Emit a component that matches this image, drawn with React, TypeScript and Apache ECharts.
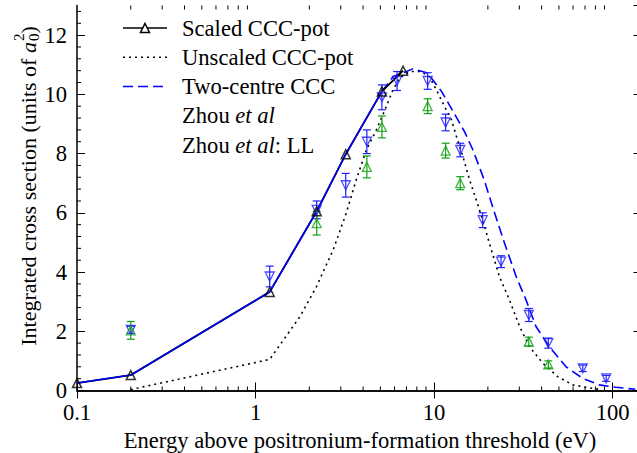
import { useEffect, useRef } from "react";
import * as echarts from "echarts";

const FONT = "'Liberation Serif', 'Times New Roman', serif";
const FS = 22.6;
const FS_Y = 22;

// Scaled CCC-pot (solid black with open triangles)
const scaledX = [0.1, 0.2, 1.2, 2.2, 3.2, 5.1, 6.7];
const scaledY = [0.25, 0.52, 3.33, 6.05, 7.98, 10.1, 10.8];

// Unscaled CCC-pot (dotted black)
const unscaledX = [0.2, 1.2, 1.43, 1.77, 2.19, 2.72, 3.22, 3.66, 4.17, 4.75, 5.4, 5.88, 6.4, 7.28, 8.47, 9.4, 10.3, 11.2, 12.5, 13.3, 14.5, 15.8, 17.2, 18.7, 20.4, 23.2, 26.4, 30.1, 34.2, 40.6, 49.2, 59.7, 70.8, 84];
const unscaledY = [0.03, 1.05, 1.7, 2.49, 3.5, 4.75, 5.99, 7.11, 8.12, 8.8, 9.59, 10.15, 10.55, 10.77, 10.77, 10.6, 10.15, 9.7, 9.14, 8.6, 7.9, 7.11, 6.44, 5.76, 4.97, 3.85, 3.06, 2.16, 1.48, 0.92, 0.47, 0.19, 0.11, 0.04];

// Two-centre CCC (blue; solid at low energy, dashed above)
const twoCentreX = [0.1, 0.2, 1.2, 2.2, 3.2, 5.1, 5.9, 7.6, 9.2, 11, 12.7, 14.8, 16.5, 19.1, 21.8, 24.8, 28.8, 32.7, 37.2, 44.2, 54.8, 68, 84, 104, 134];
const twoCentreY = [0.25, 0.52, 3.33, 6.05, 7.98, 10.1, 10.6, 10.86, 10.72, 10.1, 9.45, 8.74, 8.12, 7.1, 6.0, 4.97, 3.85, 3.06, 2.16, 1.48, 0.8, 0.41, 0.19, 0.11, 0.04];
const twoCentreSolidCount = 6;

// Zhou et al (blue open down-triangles, error bars)
const zhouX = [0.2, 1.2, 2.2, 3.2, 4.2, 5.1, 6.2, 9.2, 11.6, 14, 18.7, 23.7, 33.9, 43.6, 68, 92];
const zhouY = [2.05, 3.85, 6.1, 6.93, 8.4, 9.9, 10.45, 10.45, 9.05, 8.12, 5.75, 4.35, 2.55, 1.6, 0.75, 0.41];
const zhouErr = [0.12, 0.35, 0.3, 0.4, 0.4, 0.42, 0.32, 0.28, 0.28, 0.23, 0.25, 0.2, 0.22, 0.17, 0.11, 0.1];

// Zhou et al: LL (green open up-triangles, error bars)
const llX = [0.2, 2.2, 4.2, 5.1, 9.2, 11.6, 14, 33.9, 43.6];
const llY = [2.03, 5.65, 7.55, 8.9, 9.6, 8.1, 7.0, 1.65, 0.88];
const llErr = [0.3, 0.4, 0.37, 0.37, 0.25, 0.25, 0.22, 0.15, 0.12];

// Axes
const X_MIN = 0.1;
const X_MAX = 145;
const Y_MIN = 0;
const Y_MAX = 13;
const Y_INTERVAL = 2;
const xMinorTicks = [0.2, 0.3, 0.4, 0.5, 0.6, 0.7, 0.8, 0.9, 2, 3, 4, 5, 6, 7, 8, 9, 20, 30, 40, 50, 60, 70, 80, 90];
const yMinorTicks = [0.4, 0.8, 1.2, 1.6, 2.4, 2.8, 3.2, 3.6, 4.4, 4.8, 5.2, 5.6, 6.4, 6.8, 7.2, 7.6, 8.4, 8.8, 9.2, 9.6, 10.4, 10.8, 11.2, 11.6, 12.4, 12.8];

const legendLabels = ["Scaled CCC-pot", "Unscaled CCC-pot", "Two-centre CCC", "{n|Zhou }{i|et al}", "{n|Zhou }{i|et al}{n|: LL}"];
const xTitle = "Energy above positronium-formation threshold (eV)";
const yTitleMain = "Integrated cross section (units of ";

const BLACK = "#000000";
const BLUE = "#0000ff";
const ZBLUE = "#2020ff";
const GREEN = "#10a010";

function measure(text: string, font: string) {
  const ctx = document.createElement("canvas").getContext("2d")!;
  ctx.font = font;
  return ctx.measureText(text).width;
}

const zip = (xs: number[], ys: number[]) => xs.map((x, i) => [x, ys[i]]);

function errorBarSeries(xs: number[], ys: number[], es: number[], color: string) {
  return {
    type: "custom",
    silent: true,
    clip: false,
    z: 4,
    encode: { x: 0, y: 1 },
    data: xs.map((x, i) => [x, ys[i], es[i]]),
    renderItem: (_p: any, api: any) => {
      const x = api.value(0);
      const y = api.value(1);
      const e = api.value(2);
      const lo = api.coord([x, y - e]);
      const hi = api.coord([x, y + e]);
      const st = { stroke: color, lineWidth: 1.2 };
      return {
        type: "group",
        children: [
          { type: "line", shape: { x1: lo[0], y1: lo[1], x2: hi[0], y2: hi[1] }, style: st },
          { type: "line", shape: { x1: lo[0] - 4, y1: lo[1], x2: lo[0] + 4, y2: lo[1] }, style: st },
          { type: "line", shape: { x1: hi[0] - 4, y1: hi[1], x2: hi[0] + 4, y2: hi[1] }, style: st },
        ],
      };
    },
  };
}

export default function App() {
  const ref = useRef<HTMLDivElement>(null);

  useEffect(() => {
    if (!ref.current) return;
    const chart = echarts.init(ref.current, undefined, { renderer: "svg" });

    const font = `${FS_Y}px "Liberation Serif"`;
    const fontI = `italic ${FS_Y}px "Liberation Serif"`;
    const fsSmall = 15;
    const fontS = `${fsSmall}px "Liberation Serif"`;
    const w1 = measure(yTitleMain, font);
    const wa = measure("a", fontI);
    const ws = measure("0", fontS);
    const wc = measure(")", font);
    const W = w1 + wa + 1 + ws + wc;
    const x0 = -W / 2;
    const txt = (text: string, x: number, y: number, extra: any = {}) => ({
      type: "text",
      x,
      y,
      silent: true,
      style: { text, fill: BLACK, fontFamily: FONT, fontSize: FS, align: "left", verticalAlign: "middle", ...extra },
    });

    const legX1 = 123;
    const legX2 = 167;
    const legMid = 145;
    const legTextX = 182;
    const rowY = (i: number) => 28 + 29.25 * i;
    const tri = (cx: number, cy: number, s: number) => [[cx, cy - s / 2], [cx + s / 2, cy + s / 2], [cx - s / 2, cy + s / 2]];
    const rich = {
      n: { fontFamily: FONT, fontSize: FS, fill: BLACK },
      i: { fontFamily: FONT, fontSize: FS, fill: BLACK, fontStyle: "italic" },
    };

    const graphic: any[] = [
      // y-axis title
      {
        type: "group",
        x: 28,
        y: 186,
        rotation: Math.PI / 2,
        silent: true,
        children: [
          txt(yTitleMain, x0, 0, { fontSize: FS_Y }),
          txt("a", x0 + w1, 0, { fontSize: FS_Y, fontStyle: "italic" }),
          txt("0", x0 + w1 + wa + 1, 6, { fontSize: fsSmall }),
          txt("2", x0 + w1 + wa + 1, -9, { fontSize: fsSmall }),
          txt(")", x0 + w1 + wa + 1 + ws, 0, { fontSize: FS_Y }),
        ],
      },
      // x-axis title
      txt(xTitle, 360, 440, { align: "center" }),
      // legend samples
      { type: "line", silent: true, shape: { x1: legX1, y1: rowY(0), x2: legX2, y2: rowY(0) }, style: { stroke: BLACK, lineWidth: 1.6 } },
      { type: "polygon", silent: true, shape: { points: tri(legMid, rowY(0), 9) }, style: { fill: "#fff", stroke: BLACK, lineWidth: 1.5 } },
      { type: "line", silent: true, shape: { x1: legX1, y1: rowY(1), x2: legX2, y2: rowY(1) }, style: { stroke: BLACK, lineWidth: 1.6, lineDash: [2, 4] } },
      { type: "line", silent: true, shape: { x1: legX1, y1: rowY(2), x2: legX2, y2: rowY(2) }, style: { stroke: BLUE, lineWidth: 1.6, lineDash: [10, 5] } },
      ...legendLabels.map((t, i) => ({
        type: "text",
        x: legTextX,
        y: rowY(i),
        silent: true,
        style: { text: t, rich, fill: BLACK, fontFamily: FONT, fontSize: FS, align: "left", verticalAlign: "middle" },
      })),
    ];

    const axisLine = { show: true, lineStyle: { color: BLACK, width: 1.5 } };
    const axisTick = { show: true, inside: true, length: 8, lineStyle: { color: BLACK, width: 1 } };
    const axisLabel = { color: BLACK, fontFamily: FONT, fontSize: FS, showMaxLabel: false };

    const option: any = {
      animation: false,
      grid: { left: 77, right: 3.5, top: 5.5, bottom: 62.5 },
      xAxis: [
        { type: "log", logBase: 10, min: X_MIN, max: X_MAX, position: "bottom", axisLine, axisTick, axisLabel: { ...axisLabel, margin: 10 }, splitLine: { show: false } },
        { type: "log", logBase: 10, min: X_MIN, max: X_MAX, position: "top", axisLine, axisTick, axisLabel: { show: false }, splitLine: { show: false } },
      ],
      yAxis: [
        { type: "value", min: Y_MIN, max: Y_MAX, interval: Y_INTERVAL, position: "left", axisLine, axisTick, axisLabel: { ...axisLabel, margin: 10 }, splitLine: { show: false } },
        { type: "value", min: Y_MIN, max: Y_MAX, interval: Y_INTERVAL, position: "right", axisLine, axisTick, axisLabel: { show: false }, splitLine: { show: false } },
      ],
      graphic,
      series: [
        {
          type: "custom",
          silent: true,
          clip: false,
          encode: { x: 0, y: 1 },
          data: xMinorTicks.map((v) => [v, Y_MIN]),
          renderItem: (_p: any, api: any) => {
            const x = api.value(0);
            const b = api.coord([x, Y_MIN]);
            const t = api.coord([x, Y_MAX]);
            const st = { stroke: BLACK, lineWidth: 1 };
            return {
              type: "group",
              children: [
                { type: "line", shape: { x1: b[0], y1: b[1], x2: b[0], y2: b[1] - 4 }, style: st },
                { type: "line", shape: { x1: t[0], y1: t[1], x2: t[0], y2: t[1] + 4 }, style: st },
              ],
            };
          },
        },
        {
          type: "custom",
          silent: true,
          clip: false,
          encode: { x: 0, y: 1 },
          data: yMinorTicks.map((v) => [X_MIN, v]),
          renderItem: (_p: any, api: any) => {
            const y = api.value(1);
            const l = api.coord([X_MIN, y]);
            const r = api.coord([X_MAX, y]);
            const st = { stroke: BLACK, lineWidth: 1 };
            return {
              type: "group",
              children: [
                { type: "line", shape: { x1: l[0], y1: l[1], x2: l[0] + 4, y2: l[1] }, style: st },
                { type: "line", shape: { x1: r[0], y1: r[1], x2: r[0] - 4, y2: r[1] }, style: st },
              ],
            };
          },
        },
        {
          name: "Unscaled CCC-pot",
          type: "line",
          data: zip(unscaledX, unscaledY),
          showSymbol: false,
          lineStyle: { color: BLACK, width: 1.6, type: [2, 4] },
          z: 2,
        },
        {
          name: "Two-centre CCC",
          type: "line",
          data: zip(twoCentreX, twoCentreY).slice(twoCentreSolidCount - 1),
          showSymbol: false,
          lineStyle: { color: BLUE, width: 1.6, type: [10, 5] },
          z: 2,
        },
        {
          name: "Scaled CCC-pot",
          type: "line",
          data: zip(scaledX, scaledY),
          showSymbol: false,
          lineStyle: { color: BLACK, width: 1.9 },
          z: 2,
        },
        {
          type: "line",
          data: zip(twoCentreX, twoCentreY).slice(0, twoCentreSolidCount),
          showSymbol: false,
          lineStyle: { color: BLUE, width: 1.5 },
          z: 3,
        },
        errorBarSeries(zhouX, zhouY, zhouErr, ZBLUE),
        errorBarSeries(llX, llY, llErr, GREEN),
        {
          name: "Zhou et al",
          type: "scatter",
          data: zip(zhouX, zhouY),
          symbol: "triangle",
          symbolRotate: 180,
          symbolSize: 9,
          itemStyle: { color: "rgba(0,0,0,0)", borderColor: ZBLUE, borderWidth: 1.3 },
          z: 5,
        },
        {
          name: "Zhou et al: LL",
          type: "scatter",
          data: zip(llX, llY),
          symbol: "triangle",
          symbolSize: 9,
          itemStyle: { color: "rgba(0,0,0,0)", borderColor: GREEN, borderWidth: 1.3 },
          z: 5,
        },
        {
          type: "scatter",
          data: zip(scaledX, scaledY),
          symbol: "triangle",
          symbolSize: 9,
          itemStyle: { color: "rgba(0,0,0,0)", borderColor: BLACK, borderWidth: 1.5 },
          z: 6,
        },
      ],
    };

    chart.setOption(option);
    return () => chart.dispose();
  }, []);

  return (
    <div style={{ position: "absolute", left: 0, top: 0, width: 637, height: 453, overflow: "hidden", background: "#fff" }}>
      <div ref={ref} style={{ width: 645, height: 453 }} />
    </div>
  );
}
